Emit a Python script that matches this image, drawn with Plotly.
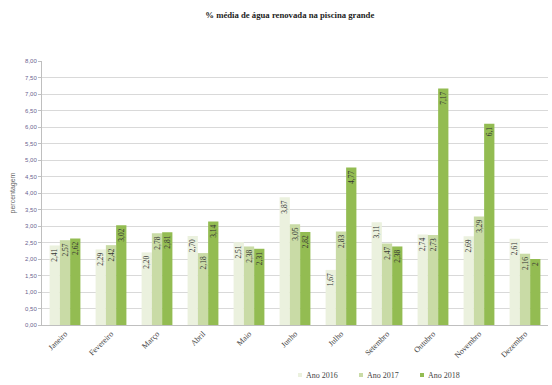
import plotly.graph_objects as go

months = ["Janeiro", "Fevereiro", "Março", "Abril", "Maio", "Junho", "Julho",
          "Setembro", "Outubro", "Novembro", "Dezembro"]
ano2016 = [2.41, 2.29, 2.20, 2.70, 2.51, 3.87, 1.67, 3.11, 2.74, 2.69, 2.61]
ano2017 = [2.57, 2.42, 2.78, 2.18, 2.38, 3.05, 2.83, 2.47, 2.73, 3.29, 2.16]
ano2018 = [2.62, 3.02, 2.81, 3.14, 2.31, 2.82, 4.77, 2.38, 7.17, 6.1, 2.0]
lbl2016 = ["2,41", "2,29", "2,20", "2,70", "2,51", "3,87", "1,67", "3,11", "2,74", "2,69", "2,61"]
lbl2017 = ["2,57", "2,42", "2,78", "2,18", "2,38", "3,05", "2,83", "2,47", "2,73", "3,29", "2,16"]
lbl2018 = ["2,62", "3,02", "2,81", "3,14", "2,31", "2,82", "4,77", "2,38", "7,17", "6,1", "2"]
yticks = [i * 0.5 for i in range(17)]
ytext = [f"{v:.2f}".replace(".", ",") for v in yticks]

series = [
    ("Ano 2016", ano2016, lbl2016, "#EBF1DE"),
    ("Ano 2017", ano2017, lbl2017, "#C9DBA6"),
    ("Ano 2018", ano2018, lbl2018, "#93BC52"),
]

W, H = 552, 385
ML, MR, MT, MB = 42, 4, 61, 60


def px_to_paper(px, py):
    return (px - ML) / (W - ML - MR), (H - MB - py) / (H - MT - MB)


fig = go.Figure()
for name, vals, lbls, col in series:
    fig.add_trace(go.Bar(
        name=name, x=months, y=vals, text=lbls,
        marker=dict(color=col, line=dict(width=0)),
        textposition="inside", insidetextanchor="end", textangle=-90,
        constraintext="none",
        textfont=dict(family="Liberation Serif", size=7.5, color="#333333"),
        hoverinfo="skip",
    ))

# legend (bottom right), drawn as small squares + labels
legend_x = [300, 361, 422]
legend_y = 375
for (name, vals, lbls, col), lx in zip(series, legend_x):
    x0, y0 = px_to_paper(lx - 2, legend_y + 2)
    x1, y1 = px_to_paper(lx + 2, legend_y - 2)
    fig.add_shape(type="rect", xref="paper", yref="paper", x0=x0, x1=x1, y0=y0, y1=y1,
                  fillcolor=col, line=dict(width=0))
    tx, ty = px_to_paper(lx + 4, legend_y)
    fig.add_annotation(text=name, xref="paper", yref="paper", x=tx, y=ty,
                       xanchor="left", yanchor="middle", showarrow=False,
                       font=dict(family="Liberation Serif", size=8, color="#444444"))

fig.update_layout(
    width=W, height=H,
    paper_bgcolor="white", plot_bgcolor="white",
    margin=dict(l=ML, r=MR, t=MT, b=MB, autoexpand=False),
    barmode="group", bargap=0.33, bargroupgap=0,
    title=dict(text="<b>% média de água renovada na piscina grande</b>",
               x=0.525, xanchor="center", y=0.962, yanchor="middle",
               font=dict(family="Liberation Serif", size=8.7, color="#222222")),
    showlegend=False,
    font=dict(family="Liberation Sans"),
    hovermode=False,
)
fig.update_xaxes(
    tickangle=-45, tickfont=dict(family="Liberation Serif", size=8, color="#444444"),
    showline=True, linecolor="#BFBFBF", linewidth=1, showgrid=False, ticks="",
)
fig.update_yaxes(
    range=[0, 8], tickvals=yticks, ticktext=ytext,
    tickfont=dict(family="Liberation Sans", size=6, color="#6B6390"),
    showgrid=True, gridcolor="#D9D9D9", gridwidth=1,
    ticks="outside", ticklen=3, tickcolor="#BFBFBF",
    showline=True, linecolor="#BFBFBF", zeroline=False,
    title=dict(text="percentagem", font=dict(family="Liberation Sans", size=7, color="#666666"), standoff=8),
)
fig.write_html("out.html", config={"displayModeBar": False},
               post_script="document.body.style.margin='0';document.body.style.padding='0';")
